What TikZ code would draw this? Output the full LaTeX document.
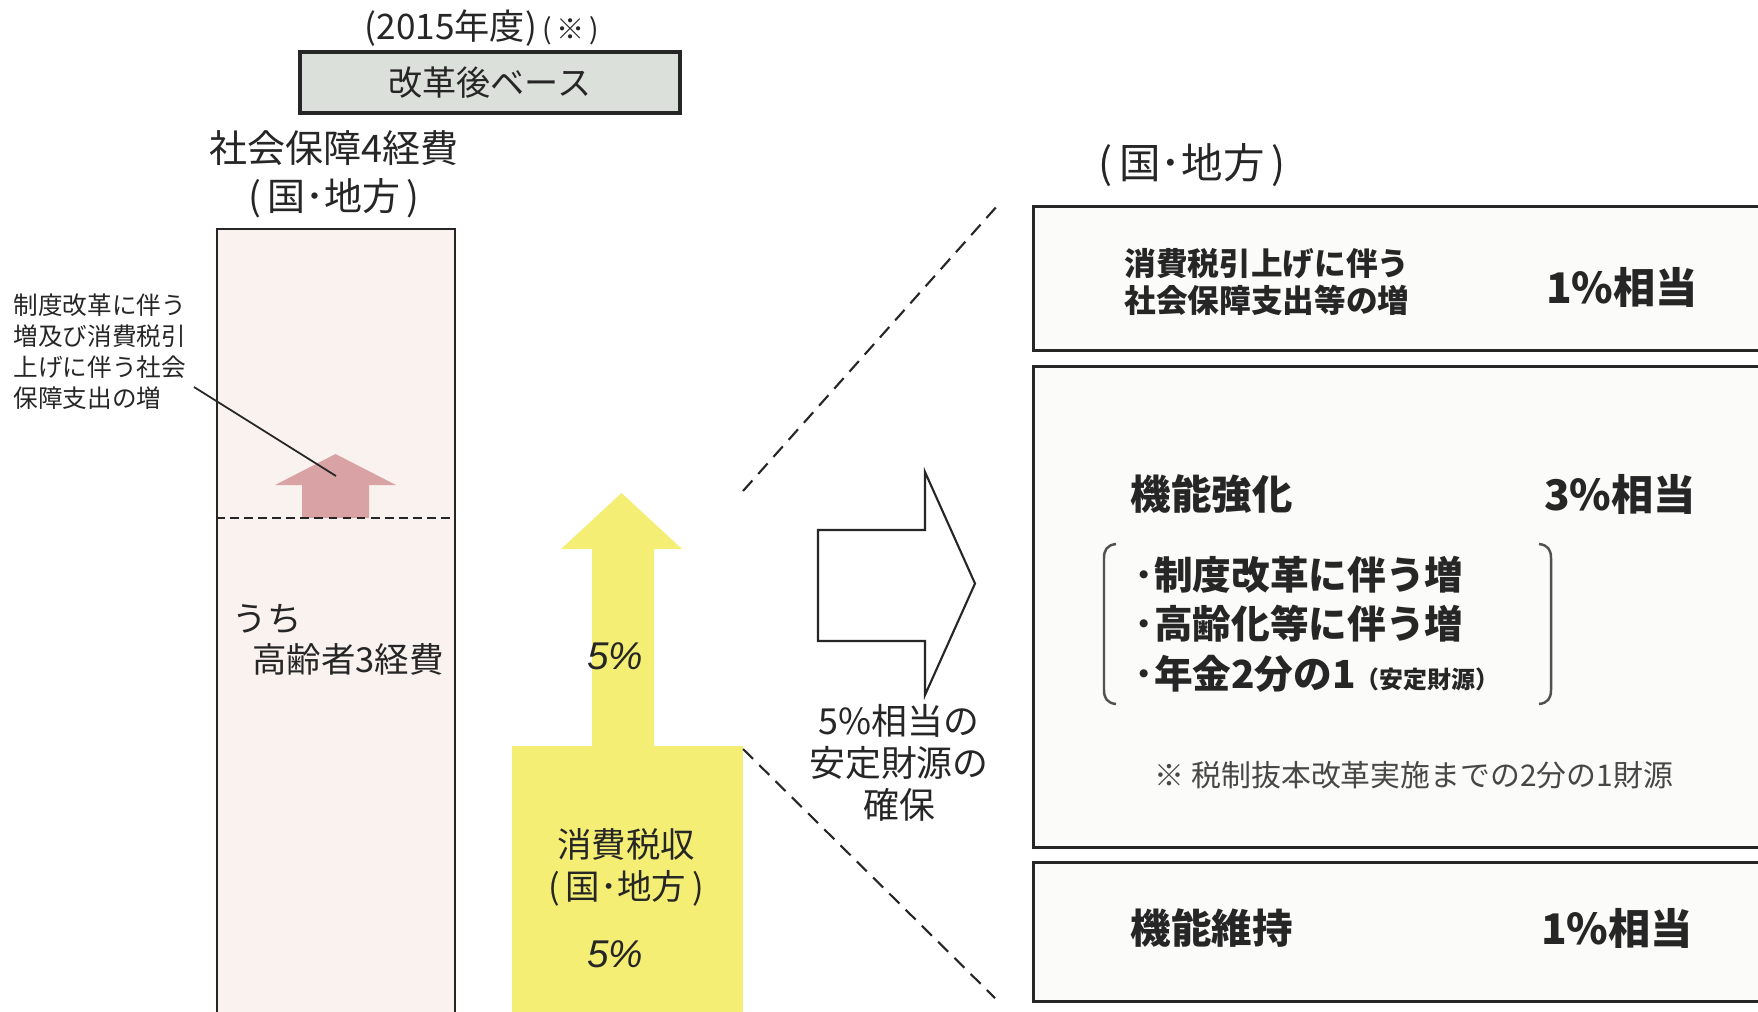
\documentclass[tikz,border=0pt]{standalone}
\usepackage{fontspec}
\setmainfont{Noto Sans CJK JP}
\newfontfamily\latinit{Liberation Sans}
\usepackage{xcolor}
\definecolor{pinkbg}{HTML}{F9F2EF}
\definecolor{pinkup}{HTML}{D9A3A5}
\definecolor{yel}{HTML}{F4EE74}
\definecolor{graybox}{HTML}{DCE0DB}
\definecolor{boxbg}{HTML}{FBFBFA}
\definecolor{ink}{HTML}{262626}

\begin{document}
\begin{tikzpicture}[x=0.01cm, y=-0.01cm, every node/.style={text=ink, inner sep=0pt},
  main box/.style={draw=ink, line width=0.8pt, fill=boxbg, anchor=north west, minimum width=7.6cm},
  head txt/.style={font=\fontsize{10.8}{13}\selectfont},
  mid txt/.style={font=\fontsize{9.8}{12}\selectfont},
  big txt/.style={font=\bfseries\fontsize{11.5}{13}\selectfont},
  item txt/.style={font=\bfseries\fontsize{11}{12}\selectfont, anchor=west},
  pct txt/.style={font=\latinit\itshape\fontsize{11}{13}\selectfont},
  dash line/.style={draw=ink, line width=0.6pt, dash pattern=on 4pt off 2.5pt}]
\useasboundingbox (0,0) rectangle (1758,1011);
\clip (0,0) rectangle (1758,1011);
\fill[white] (0,0) rectangle (1758,1011);

\node[font=\fontsize{10}{12}\selectfont] (year) at (482,28) {(2015年度)\,{\fontsize{8}{9}\selectfont(\,※\,)}};
\node[draw=ink, line width=1pt, fill=graybox, minimum width=3.8cm, minimum height=0.61cm,
  font=\fontsize{9.7}{12}\selectfont] (base) at (490,82.5) {改革後ベース};
\node[head txt] (title) at (334,148) {社会保障4経費};
\node[head txt] (tloc) at (334,198) {(\,国･地方\,)};

\node[draw=ink, line width=0.5pt, fill=pinkbg, anchor=north west, minimum width=2.38cm,
  minimum height=8.2cm] (col) at (216,228) {};
\fill[pinkup] (302,518) -- (302,485) -- (275,485) -- (335.5,454) -- (396,485) -- (369,485) -- (369,518) -- cycle;
\draw[ink, line width=0.7pt, dash pattern=on 2.5pt off 1.5pt] (216,518) -- (454,518);

\node[anchor=north west, align=left, font=\fontsize{7}{8.8}\selectfont] (note) at (13,293)
  {制度改革に伴う\\増及び消費税引\\上げに伴う社会\\保障支出の増};
\coordinate (n1) at (194,387);
\coordinate (n2) at (336,476);
\draw[ink, line width=0.5pt] (n1) -- (n2);

\node[mid txt, anchor=west] (uchi) at (232,619) {うち};
\node[mid txt] (old) at (348,659) {高齢者3経費};

\fill[yel] (592,749) -- (592,549) -- (561,549) -- (621.5,493) -- (682,549) -- (654,549) -- (654,749) -- cycle;
\node[fill=yel, anchor=north west, minimum width=2.31cm, minimum height=3cm] (tax) at (511,745) {};
\node[pct txt] (p1) at (615,656) {5\%};
\node[mid txt] (tax1) at (626,844) {消費税収};
\node[mid txt] (tax2) at (626,888) {(\,国･地方\,)};
\node[pct txt] (p2) at (615,954) {5\%};

\coordinate (d1) at (743,491);
\coordinate (d2) at (998,205);
\coordinate (d3) at (743,749);
\coordinate (d4) at (995,998);
\draw[dash line] (d1) -- (d2);
\draw[dash line] (d3) -- (d4);

\draw[ink, line width=0.6pt, fill=white] (818,530) -- (925,530) -- (925,472) -- (975,583.5) -- (925,695) -- (925,641) -- (818,641) -- cycle;
\node[align=center, font=\fontsize{10.2}{12}\selectfont] (fund) at (899,763) {5\%相当の\\安定財源の\\確保};

\node[head txt, font=\fontsize{11.8}{14}\selectfont] (rloc) at (1192,165) {(\,国･地方\,)};

\node[main box, minimum height=1.44cm] (b1) at (1032,205) {};
\node[main box, minimum height=4.81cm] (b2) at (1032,365) {};
\node[main box, minimum height=1.39cm] (b3) at (1032,861) {};

\node[align=center, font=\bfseries\fontsize{9}{10.5}\selectfont] (inc) at (1267,282) {消費税引上げに伴う\\社会保障支出等の増};
\node[big txt, font=\bfseries\fontsize{12}{14}\selectfont] (r1) at (1622,287) {1\%相当};

\node[big txt, anchor=west] (enh) at (1130,494) {機能強化};
\node[big txt, font=\bfseries\fontsize{12}{14}\selectfont] (r2) at (1620,494) {3\%相当};
\draw[ink!80, line width=0.7pt] (1116,544) .. controls (1107,545) and (1104,550) .. (1104,558) -- (1104,690) .. controls (1104,698) and (1107,703) .. (1116,704);
\draw[ink!80, line width=0.7pt] (1539,544) .. controls (1548,545) and (1551,550) .. (1551,558) -- (1551,690) .. controls (1551,698) and (1548,703) .. (1539,704);
\node[item txt] (i1) at (1134,575) {･制度改革に伴う増};
\node[item txt] (i2) at (1134,624) {･高齢化等に伴う増};
\node[item txt] (i3) at (1134,674) {･年金2分の1{\fontsize{6.8}{8}\selectfont（安定財源）}};
\node[font=\fontsize{8.5}{10}\selectfont, text=ink!85] (memo) at (1414,775) {※ 税制抜本改革実施までの2分の1財源};

\node[big txt, anchor=west] (keep) at (1130,928) {機能維持};
\node[big txt, font=\bfseries\fontsize{12}{14}\selectfont] (r3) at (1617,928) {1\%相当};
\end{tikzpicture}
\end{document}
